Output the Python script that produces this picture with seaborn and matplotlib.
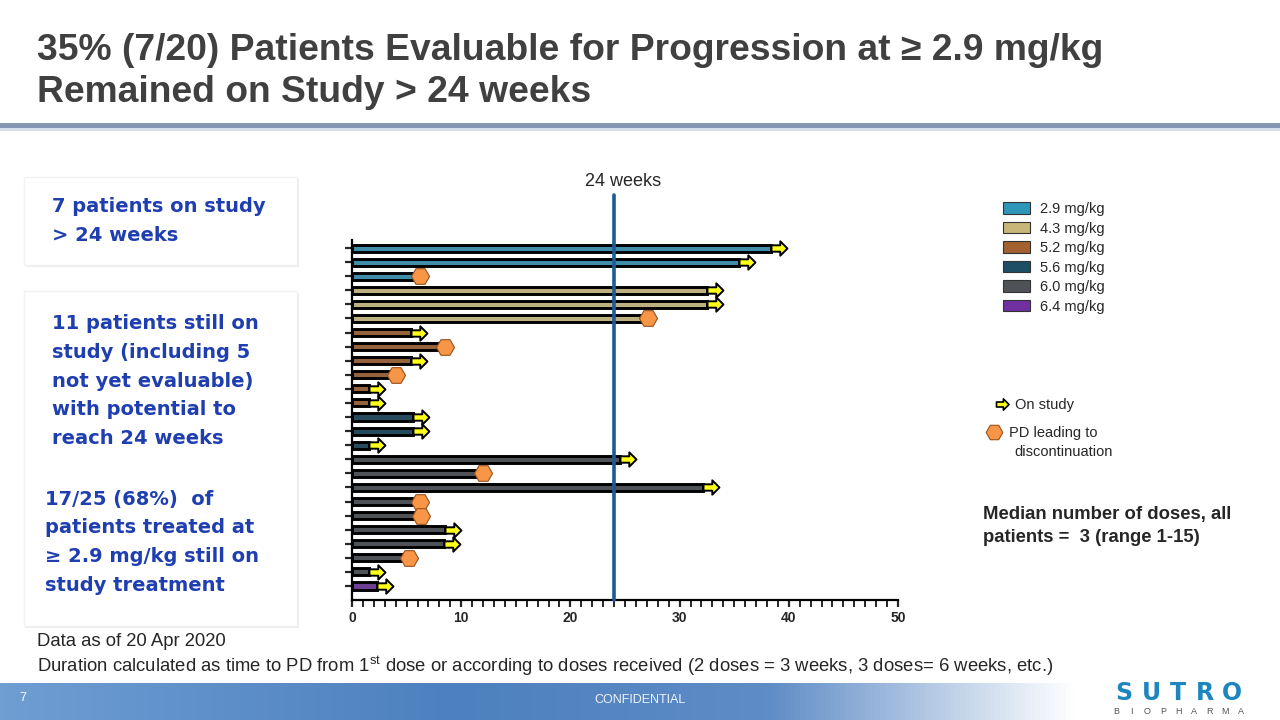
import numpy as np
import pandas as pd
import seaborn as sns
import matplotlib.pyplot as plt
from matplotlib.path import Path
from matplotlib.patches import Rectangle, Patch
from matplotlib.lines import Line2D
from matplotlib.colors import LinearSegmentedColormap

# weeks on study per patient, top row first
weeks = [38.4, 35.4, 6.2, 32.5, 32.5, 27.1, 5.4, 8.5, 5.4, 4.0, 1.6, 1.6,
         5.6, 5.6, 1.6, 24.5, 12.0, 32.1, 6.2, 6.3, 8.5, 8.4, 5.2, 1.6, 2.3]
dose = ['2.9 mg/kg', '2.9 mg/kg', '2.9 mg/kg',
        '4.3 mg/kg', '4.3 mg/kg', '4.3 mg/kg',
        '5.2 mg/kg', '5.2 mg/kg', '5.2 mg/kg', '5.2 mg/kg', '5.2 mg/kg', '5.2 mg/kg',
        '5.6 mg/kg', '5.6 mg/kg', '5.6 mg/kg',
        '6.0 mg/kg', '6.0 mg/kg', '6.0 mg/kg', '6.0 mg/kg', '6.0 mg/kg',
        '6.0 mg/kg', '6.0 mg/kg', '6.0 mg/kg', '6.0 mg/kg',
        '6.4 mg/kg']
# 'on' = still on study (arrow), 'pd' = PD leading to discontinuation (hexagon)
status = ['on', 'on', 'pd', 'on', 'on', 'pd', 'on', 'pd', 'on', 'pd', 'on', 'on',
          'on', 'on', 'on', 'on', 'pd', 'on', 'pd', 'pd', 'on', 'on', 'pd', 'on', 'on']

dose_labels = ['2.9 mg/kg', '4.3 mg/kg', '5.2 mg/kg', '5.6 mg/kg', '6.0 mg/kg', '6.4 mg/kg']
dose_colors = ['#2E96B9', '#C6B677', '#A2612F', '#1D4E66', '#4E5257', '#7030A0']
x_ticks = [0, 10, 20, 30, 40, 50]
cutoff = 24

df = pd.DataFrame({'patient': [f'P{i + 1}' for i in range(len(weeks))],
                   'weeks': weeks, 'dose': dose, 'status': status})
df['pos'] = np.arange(len(df))

W, H = 1280, 720
def fx(px):
    return px / W
def fy(py):
    return 1 - py / H

sns.set_style('ticks')
plt.rcParams['font.family'] = ['Liberation Sans', 'DejaVu Sans']
plt.rcParams['mathtext.fontset'] = 'custom'
plt.rcParams['mathtext.rm'] = 'Liberation Sans'

fig = plt.figure(figsize=(12.8, 7.2), dpi=100)
fig.patch.set_facecolor('white')

# title
fig.text(fx(37), fy(50), '35% (7/20) Patients Evaluable for Progression at \u2265 2.9 mg/kg',
         fontsize=26.8, weight='bold', color='#404040', va='center')
fig.text(fx(37), fy(93), 'Remained on Study > 24 weeks',
         fontsize=26.8, weight='bold', color='#404040', va='center')
fig.patches.append(Rectangle((0, fy(128)), 1, 5 / H, transform=fig.transFigure,
                             color='#8397B3', lw=0))
fig.patches.append(Rectangle((0, fy(131)), 1, 3 / H, transform=fig.transFigure,
                             color='#D9DFE8', lw=0))

# left boxes
for top, bot in [(177, 265), (291, 626)]:
    fig.patches.append(Rectangle((fx(26), fy(bot + 2)), fx(297) - fx(24), (bot - top) / H,
                                 transform=fig.transFigure, facecolor='#EDEDED', lw=0))
    fig.patches.append(Rectangle((fx(24), fy(bot)), fx(297) - fx(24), (bot - top) / H,
                                 transform=fig.transFigure, facecolor='white',
                                 edgecolor='#F2F2F2', lw=1))
blue = '#1F3FB0'
box_kw = dict(fontsize=14, weight='bold', color=blue, va='center',
              family=['DejaVu Sans'])
for i, line in enumerate(['7 patients on study', '> 24 weeks']):
    fig.text(fx(52), fy(207 + 29 * i), line, **box_kw)
for i, line in enumerate(['11 patients still on', 'study (including 5',
                          'not yet evaluable)', 'with potential to', 'reach 24 weeks']):
    fig.text(fx(52), fy(324 + 28.6 * i), line, **box_kw)
for i, line in enumerate(['17/25 (68%)  of', 'patients treated at',
                          '\u2265 2.9 mg/kg still on', 'study treatment']):
    fig.text(fx(45), fy(499 + 28.7 * i), line, **box_kw)

# main chart
ax = fig.add_axes([fx(352), fy(600), fx(898) - fx(352), 360 / H])
sns.barplot(data=df, x='weeks', y='patient', hue='dose', hue_order=dose_labels,
            palette=dict(zip(dose_labels, dose_colors)), dodge=False, width=0.5,
            edgecolor='black', linewidth=2.1, errorbar=None, legend=False, ax=ax)

arrow = Path([(0, -0.2), (0.55, -0.2), (0.55, -0.45), (1.0, 0.0), (0.55, 0.45),
              (0.55, 0.2), (0, 0.2), (0, -0.2)],
             [Path.MOVETO] + [Path.LINETO] * 6 + [Path.CLOSEPOLY])
on = df[df['status'] == 'on']
pd_rows = df[df['status'] == 'pd']
ax.plot(on['weeks'], on['pos'], ls='none', marker=arrow, ms=23, mfc='#FFFF1A',
        mec='black', mew=1.4, zorder=5, clip_on=False)
ax.plot(pd_rows['weeks'], pd_rows['pos'], ls='none', marker='H', ms=13,
        mfc='#F79646', mec='#9A4F1E', mew=0.8, zorder=5, clip_on=False)

ax.axvline(cutoff, ymin=0, ymax=405 / 360, color='#1F5A96', lw=2.6, zorder=6,
           clip_on=False)
fig.text(fx(623), fy(181), f'{cutoff} weeks', fontsize=13, ha='center', va='center')

ax.set_xlim(0, 50)
ax.set_ylim(len(df) - 1 + 0.994, -0.57)
ax.set_xticks(x_ticks)
ax.set_xticks(np.arange(0, 51, 1), minor=True)
ax.set_xticklabels([str(t) for t in x_ticks], fontsize=10, weight='bold')
ax.set_yticks(df['pos'])
ax.set_yticklabels([])
ax.set_xlabel('')
ax.set_ylabel('')
ax.tick_params(axis='x', which='major', length=5, width=1.6, direction='out', pad=3)
ax.tick_params(axis='x', which='minor', length=5, width=1.4, direction='out')
ax.tick_params(axis='y', length=5, width=1.6, direction='out')
for side in ['top', 'right']:
    ax.spines[side].set_visible(False)
for side in ['left', 'bottom']:
    ax.spines[side].set_linewidth(1.6)
    ax.spines[side].set_color('black')

# dose legend
dose_handles = [Patch(facecolor=c, edgecolor='#333333', lw=0.8) for c in dose_colors]
fig.legend(dose_handles, dose_labels, loc='upper left', bbox_to_anchor=(fx(1003), fy(202)),
           frameon=False, fontsize=10.5, handlelength=1.85, handleheight=0.85,
           labelspacing=0.38, handletextpad=0.7, borderpad=0, borderaxespad=0)

# marker legend
fig.legend([Line2D([], [], ls='none', marker=arrow, ms=18, mfc='#FFFF1A', mec='black',
                   mew=1.2)],
           ['On study'], loc='center left', bbox_to_anchor=(fx(984), fy(405)),
           frameon=False, fontsize=10.5, handlelength=1.6, handletextpad=0.55,
           borderpad=0, borderaxespad=0)
fig.legend([Line2D([], [], ls='none', marker='H', ms=12, mfc='#F79646', mec='#9A4F1E',
                   mew=0.8)],
           ['PD leading to'], loc='center left', bbox_to_anchor=(fx(990), fy(433)),
           frameon=False, fontsize=10.5, handlelength=0.6, handletextpad=0.7,
           borderpad=0, borderaxespad=0)
fig.text(fx(1014), fy(452), 'discontinuation', fontsize=10.5, va='center')

fig.text(fx(983), fy(514), 'Median number of doses, all', fontsize=13.3, weight='bold',
         va='center')
fig.text(fx(983), fy(537), 'patients =  3 (range 1-15)', fontsize=13.3, weight='bold',
         va='center')

# footnotes
fig.text(fx(37), fy(641), 'Data as of 20 Apr 2020', fontsize=13.3, va='center')
fig.text(fx(37), fy(666),
         r'Duration calculated as time to PD from 1$^{\mathrm{st}}$ dose or according to doses '
         r'received (2 doses = 3 weeks, 3 doses= 6 weeks, etc.)',
         fontsize=13.3, va='center')

# footer band
fax = fig.add_axes([0, 0, 1, 37 / H])
band = LinearSegmentedColormap.from_list(
    'band', [(0, '#6F9ED3'), (0.35, '#4D80BF'), (0.6, '#5E8CC6'), (0.84, '#FFFFFF'),
             (1, '#FFFFFF')])
fax.imshow(np.linspace(0, 1, 256)[None, :], aspect='auto', cmap=band,
           extent=[0, 1, 0, 1])
fax.set_axis_off()
fig.text(fx(19), fy(698), '7', fontsize=9, color='white', va='center')
fig.text(fx(640), fy(700), 'CONFIDENTIAL', fontsize=9, color='#EEF3FA',
         ha='center', va='center')

# logo, letter-spaced
for i, ch in enumerate('SUTRO'):
    fig.text(fx(1124 + 27 * i), fy(693), ch, fontsize=17, weight='semibold',
             color='#1E86BE', ha='center', va='center', family=['DejaVu Sans'])
for i, ch in enumerate('BIOPHARMA'):
    fig.text(fx(1116 + 15.6 * i), fy(712), ch, fontsize=6.5, color='#555555',
             ha='center', va='center')

fig.savefig('out.png', dpi=100)
